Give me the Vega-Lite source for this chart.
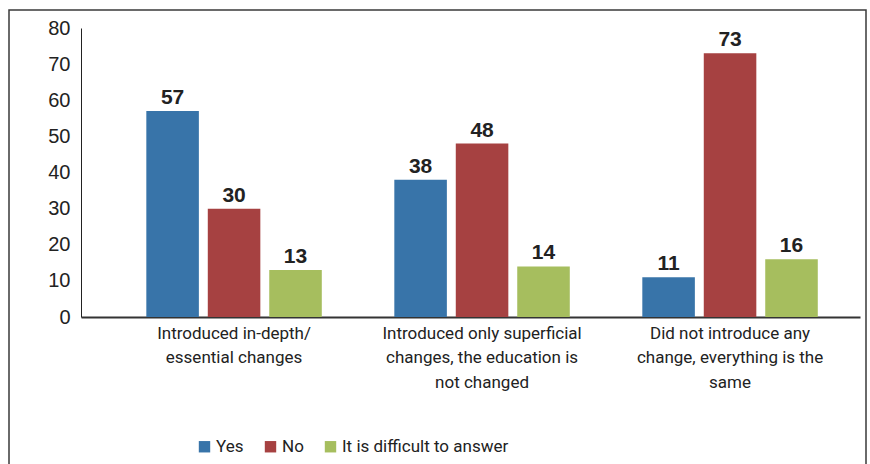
{
  "$schema": "https://vega.github.io/schema/vega-lite/v6.json",
  "autosize": "none",
  "padding": {"left": 9, "top": 10, "right": 4, "bottom": 0},
  "width": 857,
  "height": 460,
  "background": "white",
  "config": {
    "view": {"stroke": "#3a3a3a", "strokeWidth": 1.5},
    "axis": {"grid": false, "ticks": false, "domainColor": "#222", "labelColor": "#222", "title": null}
  },
  "data": {
    "values": [
      {"category": "Introduced in-depth/|essential changes", "answer": "Yes", "value": 57},
      {"category": "Introduced in-depth/|essential changes", "answer": "No", "value": 30},
      {"category": "Introduced in-depth/|essential changes", "answer": "It is difficult to answer", "value": 13},
      {"category": "Introduced only superficial|changes, the education is|not changed", "answer": "Yes", "value": 38},
      {"category": "Introduced only superficial|changes, the education is|not changed", "answer": "No", "value": 48},
      {"category": "Introduced only superficial|changes, the education is|not changed", "answer": "It is difficult to answer", "value": 14},
      {"category": "Did not introduce any|change, everything is the|same", "answer": "Yes", "value": 11},
      {"category": "Did not introduce any|change, everything is the|same", "answer": "No", "value": 73},
      {"category": "Did not introduce any|change, everything is the|same", "answer": "It is difficult to answer", "value": 16}
    ]
  },
  "encoding": {
    "x": {
      "field": "category",
      "type": "nominal",
      "sort": null,
      "scale": {"range": [72, 851], "paddingInner": 0, "paddingOuter": 0.0706, "align": 0.83},
      "axis": {
        "orient": "bottom",
        "offset": -153,
        "labelAngle": 0,
        "labelExpr": "split(datum.label, '|')",
        "labelFont": "Roboto",
        "labelFontSize": 17,
        "labelLineHeight": 24.5,
        "labelPadding": 8,
        "labelBaseline": "top",
        "labelLimit": 0,
        "domainWidth": 2,
        "domainColor": "#333"
      }
    },
    "xOffset": {
      "field": "answer",
      "type": "nominal",
      "sort": ["Yes", "No", "It is difficult to answer"],
      "scale": {"paddingInner": 0.145, "paddingOuter": 0.59}
    },
    "y": {
      "field": "value",
      "type": "quantitative",
      "scale": {"domain": [0, 80], "range": [307, 18], "nice": false},
      "axis": {
        "orient": "left",
        "offset": -72,
        "values": [0, 10, 20, 30, 40, 50, 60, 70, 80],
        "labelFont": "Liberation Sans",
        "labelFontSize": 20,
        "labelPadding": 11,
        "domainWidth": 1
      }
    }
  },
  "layer": [
    {
      "mark": {"type": "bar"},
      "encoding": {
        "color": {
          "field": "answer",
          "type": "nominal",
          "sort": ["Yes", "No", "It is difficult to answer"],
          "scale": {"domain": ["Yes", "No", "It is difficult to answer"], "range": ["#3874A9", "#A64141", "#A6BE5E"]},
          "legend": {
            "title": null,
            "orient": "none",
            "direction": "horizontal",
            "legendX": 187,
            "legendY": 428,
            "symbolType": "square",
            "symbolSize": 130,
            "symbolStrokeWidth": 0,
            "labelFont": "Roboto",
            "labelFontSize": 17,
            "labelColor": "#222",
            "labelOffset": 3,
            "labelLimit": 0,
            "columnPadding": 18
          }
        }
      }
    },
    {
      "mark": {"type": "text", "baseline": "alphabetic", "dy": -7, "font": "Liberation Sans", "fontWeight": "bold", "fontSize": 21, "color": "#222"},
      "encoding": {
        "text": {"field": "value", "type": "quantitative"}
      }
    }
  ]
}
